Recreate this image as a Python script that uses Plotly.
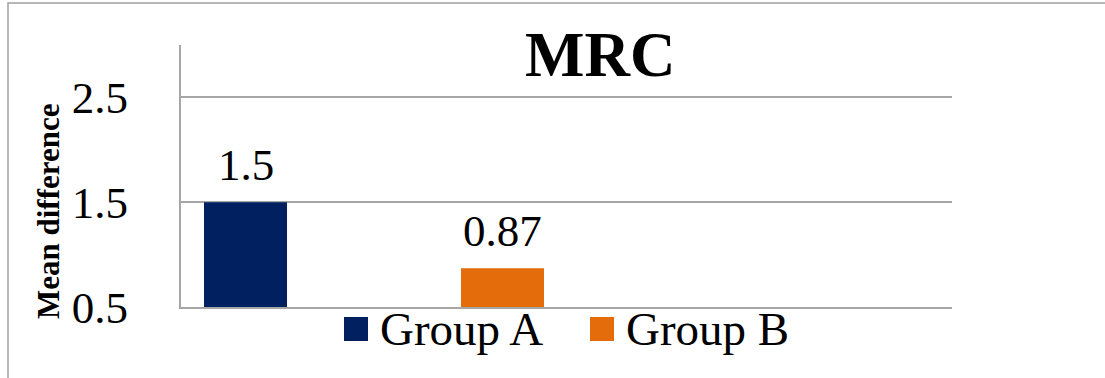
import plotly.graph_objects as go

# Chart data
title_text = "MRC"
axis_title = "Mean difference"
groups = ["Group A", "Group B"]
mean_diff = [1.5, 0.87]
y_ticks = [0.5, 1.5, 2.5]

colors = ["#002060", "#E46C0A"]
serif = "Liberation Serif, Times New Roman, serif"

W, H = 1105, 378
L, R, T, B = 181, 952, 45, 307  # plot area in pixels


def px_x(p):
    return (p - L) / (R - L)


def px_y(p):
    return (B - p) / (B - T)


fig = go.Figure()
for name, val, col in zip(groups, mean_diff, colors):
    fig.add_trace(go.Bar(
        x=[name], y=[val], name=name, width=0.323,
        marker=dict(color=col, line=dict(width=0)),
        showlegend=False, hoverinfo="skip",
    ))
    # value label above each bar
    fig.add_annotation(
        x=name, y=val, xref="x", yref="y", text=f"{val:g}",
        showarrow=False, yanchor="bottom", yshift=10,
        font=dict(family=serif, size=45, color="#000000"),
    )

# legend: swatch + label per group
legend_swatch_left = [344, 590]
for name, col, sx in zip(groups, colors, legend_swatch_left):
    fig.add_shape(
        type="rect", xref="paper", yref="paper",
        x0=px_x(sx), x1=px_x(sx + 24), y0=px_y(341), y1=px_y(317),
        fillcolor=col, line=dict(width=0),
    )
    fig.add_annotation(
        x=px_x(sx + 34), y=px_y(329), xref="paper", yref="paper",
        text=name, showarrow=False, xanchor="left", yanchor="middle",
        font=dict(family=serif, size=47, color="#000000"),
    )

# chart title
fig.add_annotation(
    x=px_x(600), y=px_y(55), xref="paper", yref="paper",
    text=f"<b>{title_text}</b>", showarrow=False,
    xanchor="center", yanchor="middle",
    font=dict(family=serif, size=63, color="#000000"),
)

# y-axis title
fig.add_annotation(
    x=px_x(48), y=px_y(211), xref="paper", yref="paper",
    text=f"<b>{axis_title}</b>", showarrow=False, textangle=-90,
    xanchor="center", yanchor="middle",
    font=dict(family=serif, size=31, color="#000000"),
)

# outer chart border
fig.add_shape(
    type="rect", xref="paper", yref="paper",
    x0=px_x(8), x1=px_x(1120), y0=px_y(400), y1=px_y(3),
    line=dict(color="#A0A0A0", width=1.5), fillcolor="rgba(0,0,0,0)",
    layer="below",
)

fig.update_layout(
    width=W, height=H,
    margin=dict(l=L, r=W - R, t=T, b=H - B, pad=0),
    paper_bgcolor="#FFFFFF", plot_bgcolor="#FFFFFF",
    barmode="overlay",
    xaxis=dict(
        type="category", categoryarray=groups, range=[-0.251, 2.749],
        showticklabels=False, showgrid=False, zeroline=False,
        showline=True, linecolor="#A6A6A6", linewidth=2, ticks="",
    ),
    yaxis=dict(
        range=[0.5, 3.0], tickvals=y_ticks, ticktext=[f"{v:g}" for v in y_ticks],
        showgrid=True, gridcolor="#A6A6A6", gridwidth=2,
        zeroline=False, showline=True, linecolor="#A6A6A6", linewidth=2,
        ticks="", ticklabelstandoff=42,
        tickfont=dict(family=serif, size=45, color="#000000"),
    ),
)

fig.write_html("out.html")
